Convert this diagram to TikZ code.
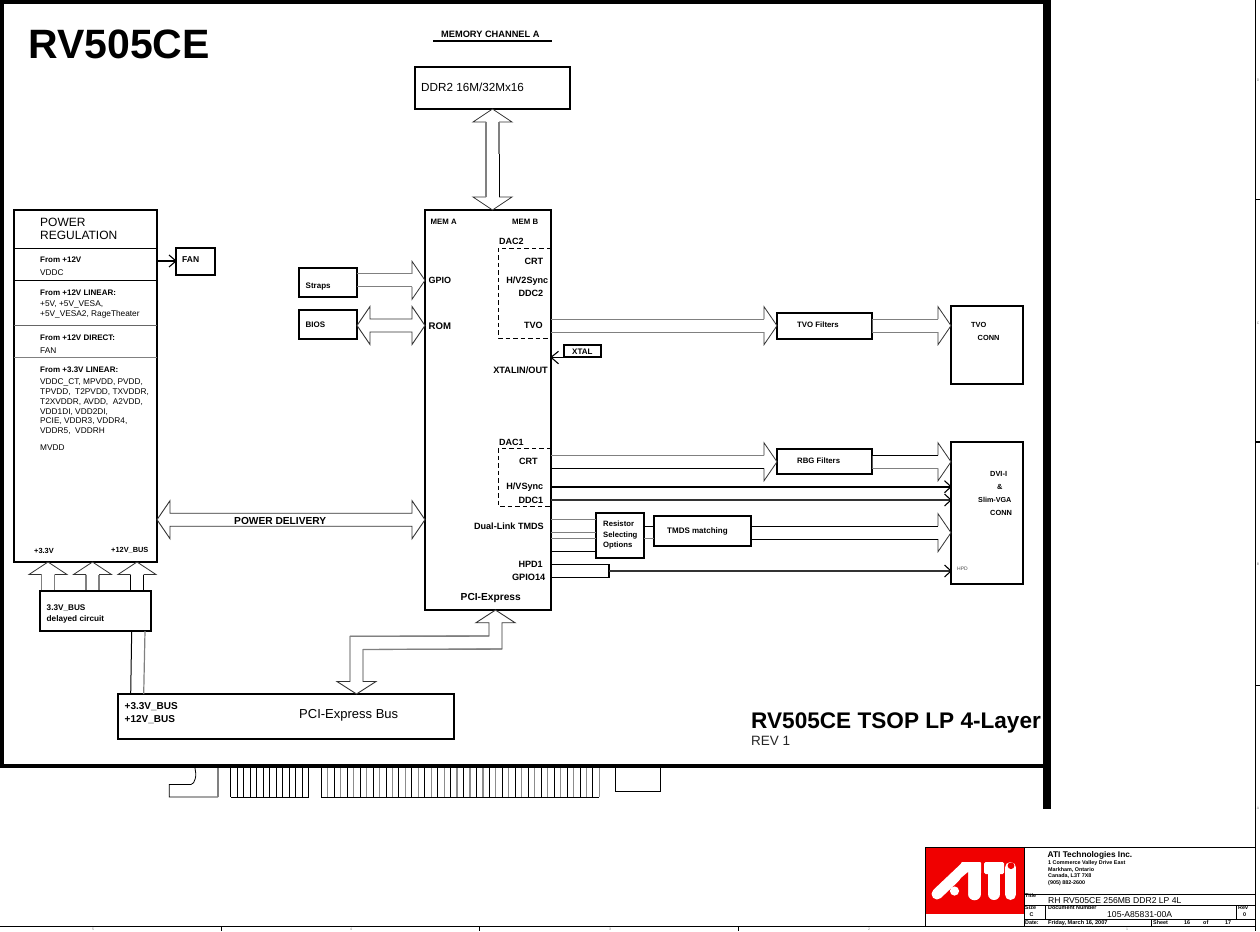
\documentclass[tikz,border=0pt]{standalone}
\usepackage{fontspec}
\setmainfont{Liberation Sans}
\usetikzlibrary{calc}
\definecolor{atired}{RGB}{240,0,0}
\tikzset{x=1pt,y=-1pt,
 boxst/.style={draw=black,line width=2pt,fill=white,inner sep=0pt,outer sep=0pt},
 gl/.style={line width=1.2pt,draw=black!50},
 bl/.style={line width=1pt,draw=black},
 head/.style={line width=.8pt,draw=black!80,line join=miter},
 big/.style={draw=black!80,line width=.9pt,line join=miter,fill=white},
 lbl/.style={inner sep=0pt,anchor=west,yshift=-.6pt,font=\fontsize{9}{10}\selectfont\bfseries},
 sm/.style={inner sep=0pt,anchor=west,yshift=-.6pt,font=\fontsize{8.3}{10}\selectfont},
 smb/.style={inner sep=0pt,anchor=west,yshift=-.6pt,font=\fontsize{8}{10}\selectfont\bfseries},
 pin/.style={inner sep=0pt,anchor=west,yshift=-.6pt,font=\fontsize{9.6}{10}\selectfont\bfseries},
 pinr/.style={inner sep=0pt,anchor=east,yshift=-.6pt,font=\fontsize{9.1}{10}\selectfont\bfseries},
 tb/.style={inner sep=0pt,anchor=west,font=\fontsize{5.4}{6}\selectfont\bfseries},
 tick/.style={inner sep=0pt,text=black!50,font=\fontsize{3.5}{4}\selectfont},
 dsh/.style={line width=.9pt,dash pattern=on 4.5pt off 3pt},
 thinl/.style={line width=.8pt,draw=black},
}
\newcommand{\boxnode}[5]{\node[boxst,minimum width={(#4)-(#2)},minimum height={(#5)-(#3)}] (#1) at ({((#2)+(#4))/2},{((#3)+(#5))/2}) {};}
% block arrow between two nodes, pointing right: from, to, y centre, colour of the upper and of the lower shaft line
\newcommand{\rarrow}[5]{%
 \coordinate (ast) at (#1.east |- 0,#3);
 \coordinate (atp) at (#2.west |- 0,#3);
 \fill[white] ($(ast)+(1.2,-6.5)$) -- ($(atp)+(-13,-6.5)$) -- ($(atp)+(-13,-19)$) -- (atp) -- ($(atp)+(-13,19)$) -- ($(atp)+(-13,6.5)$) -- ($(ast)+(1.2,6.5)$) -- cycle;
 \draw[head] ($(atp)+(-13,-6.5)$) -- ($(atp)+(-13,-19)$) -- (atp) -- ($(atp)+(-13,19)$) -- ($(atp)+(-13,6.5)$);
 \draw[#4] ($(ast)+(0,-6.5)$) -- ($(atp)+(-13,-6.5)$);
 \draw[#5] ($(ast)+(0,6.5)$) -- ($(atp)+(-13,6.5)$);}
% double headed horizontal block arrow
\newcommand{\harrow}[3]{%
 \coordinate (ast) at (#1.east |- 0,#3);
 \coordinate (atp) at (#2.west |- 0,#3);
 \draw[big] (ast) -- ($(ast)+(13,-19)$) -- ($(ast)+(13,-6.5)$) -- ($(atp)+(-13,-6.5)$) -- ($(atp)+(-13,-19)$) -- (atp) -- ($(atp)+(-13,19)$) -- ($(atp)+(-13,6.5)$) -- ($(ast)+(13,6.5)$) -- ($(ast)+(13,19)$) -- cycle;}
% upward block arrow into the power box
\newcommand{\uparrowblk}[2]{%
 \coordinate (atp) at (pwr.south -| #1,0);
 \coordinate (ast) at (dly.north -| #1,0);
 \fill[white] ($(ast)+(-6.5,0)$) -- ($(atp)+(-6.5,12.5)$) -- ($(atp)+(-19,12.5)$) -- (atp) -- ($(atp)+(19,12.5)$) -- ($(atp)+(6.5,12.5)$) -- ($(ast)+(6.5,0)$) -- cycle;
 \draw[head] ($(atp)+(-6.5,12.5)$) -- ($(atp)+(-19,12.5)$) -- (atp) -- ($(atp)+(19,12.5)$) -- ($(atp)+(6.5,12.5)$);
 \draw[#2] ($(ast)+(-6.5,0)$) -- ($(atp)+(-6.5,12.5)$);
 \draw[#2] ($(ast)+(6.5,0)$) -- ($(atp)+(6.5,12.5)$);}
\begin{document}
\begin{tikzpicture}
\useasboundingbox (0,0) rectangle (1260,931);
\fill[white] (0,0) rectangle (1260,931);
% frame
\fill (0,0) rectangle (1051,4.5);
\fill (0,0) rectangle (3.7,768);
\fill (0,763.5) rectangle (1051,768);
\fill (1043.3,0) rectangle (1051,808.5);
\draw[line width=1pt] (1255.5,0) -- (1255.5,931);
\draw[line width=.7pt] (1255.5,199) -- (1260,199) (1255.5,685) -- (1260,685);
\draw[line width=1.6pt] (1255.5,442) -- (1260,442);
\node[tick] (zd) at (1258,80) {D};
\node[tick] (zc) at (1258,323) {C};
\node[tick] (zb) at (1258,564) {B};
\node[tick] (za) at (1258,808) {A};
% titles
\node[lbl,font=\fontsize{41}{43}\selectfont\bfseries] (title) at (28,44) {RV505CE};
\node[lbl,font=\fontsize{9.25}{10}\selectfont\bfseries] (memch) at (441,33.5) {MEMORY CHANNEL A};
\coordinate (mema) at (433,41); \coordinate (memb) at (552,41);
\draw[line width=1.2pt] (mema) -- (memb);
\node[lbl,font=\fontsize{22.6}{24}\selectfont\bfseries,anchor=base west] (rev) at (751,728) {RV505CE TSOP LP 4-Layer};
\node[sm,font=\fontsize{13.5}{15}\selectfont,text=black!85] (rev1) at (751,740.5) {REV 1};
% boxes
\boxnode{ddr}{415}{67}{570}{109}
\node[sm,font=\fontsize{11.7}{13}\selectfont] (ddrt) at (421,87) {DDR2 16M/32Mx16};
\boxnode{pwr}{14}{210}{157}{562}
\boxnode{fan}{176}{248}{215}{275}
\boxnode{dly}{40}{591}{151}{631}
\boxnode{bus}{118}{694}{454}{739}
\boxnode{gpu}{425}{210}{551}{610}
\boxnode{straps}{299}{268}{357}{297}
\boxnode{bios}{299}{310}{357}{339}
\boxnode{xtal}{563.5}{345}{601}{357.3}
\boxnode{tvof}{777}{313}{871.5}{339}
\boxnode{tvoc}{951}{306}{1023.3}{384}
\boxnode{rbgf}{777}{449}{871.5}{474}
\boxnode{dvi}{951}{441.5}{1023.3}{584}
\boxnode{res}{596}{513}{644}{558}
\boxnode{tmds}{654}{516}{751}{546}
% power regulation
\node[sm,font=\fontsize{12}{13}\selectfont,align=left] (pwrt) at (40,228.5) {POWER\\[0pt]REGULATION};
\draw[line width=.8pt] (pwr.west |- 0,248.3) -- (pwr.east |- 0,248.3);
\draw[line width=1pt] (pwr.west |- 0,280) -- (pwr.east |- 0,280);
\draw[line width=1pt,black!60] (pwr.west |- 0,325.7) -- (pwr.east |- 0,325.7);
\draw[line width=1.4pt,black!50] (pwr.west |- 0,357.7) -- (pwr.east |- 0,357.7);
\node[smb] (p1) at (40,259) {From +12V};
\node[sm] (p2) at (40,272.5) {VDDC};
\node[smb] (p3) at (40,292) {From +12V LINEAR:};
\node[sm] (p4) at (40,304) {+5V, +5V\_VESA,};
\node[sm] (p5) at (40,314) {+5V\_VESA2, RageTheater};
\node[smb] (p6) at (40,337) {From +12V DIRECT:};
\node[sm] (p7) at (40,350) {FAN};
\node[smb] (p8) at (40,369) {From +3.3V LINEAR:};
\node[sm] (p9) at (40,382) {VDDC\_CT, MPVDD, PVDD,};
\node[sm] (p10) at (40,392) {TPVDD,\ \ T2PVDD, TXVDDR,};
\node[sm] (p11) at (40,401.7) {T2XVDDR, AVDD,\ \ A2VDD,};
\node[sm] (p12) at (40,411.5) {VDD1DI, VDD2DI,};
\node[sm] (p13) at (40,421) {PCIE, VDDR3, VDDR4,};
\node[sm] (p14) at (40,430.7) {VDDR5,\ \ VDDRH};
\node[sm] (p15) at (40,447) {MVDD};
\node[smb,font=\fontsize{7.4}{9}\selectfont\bfseries] (p16) at (34,550) {+3.3V};
\node[smb,font=\fontsize{7.4}{9}\selectfont\bfseries] (p17) at (111,550) {+12V\_BUS};
% Fan
\node[smb,font=\fontsize{8.5}{10}\selectfont\bfseries] (fant) at (182,259) {FAN};
\draw[line width=1.2pt] (pwr.east |- 0,261) -- (fan.west |- 0,261);
\draw[line width=1.1pt] ($(fan.west |- 0,261)+(-7,-6)$) -- (fan.west |- 0,261) -- ($(fan.west |- 0,261)+(-7,6)$);
% delayed circuit
\uparrowblk{48}{gl}
\uparrowblk{92.5}{gl}
\uparrowblk{137}{bl}
\node[smb,align=left,font=\fontsize{8.2}{11}\selectfont\bfseries] (dlyt) at (46.5,613.5) {3.3V\_BUS\\delayed circuit};
\draw[boxst,fill=none] (dly.south west) rectangle (dly.north east);
\node[lbl,font=\fontsize{10}{13}\selectfont\bfseries,align=left] (bust) at (124.5,712.5) {+3.3V\_BUS\\+12V\_BUS};
\node[sm,font=\fontsize{13}{15}\selectfont] (pcib) at (299,714.8) {PCI-Express Bus};
\draw[bl] (dly.south -| 131.7,0) -- (bus.north -| 130.7,0);
\draw[gl] (dly.south -| 145,0) -- (bus.north -| 143.7,0);
% GPU
\node[smb,font=\fontsize{7.8}{9}\selectfont\bfseries] (g1) at (430.5,221) {MEM A};
\node[smb,font=\fontsize{7.8}{9}\selectfont\bfseries] (g2) at (512,221) {MEM B};
\node[lbl] (g3) at (499,240.5) {DAC2};
\draw[dsh] (gpu.east |- 0,248) -- (498.3,248) -- (498.3,338) -- (gpu.east |- 0,338);
\node[pinr] (g4) at (543.5,260.5) {CRT};
\node[pinr] (g5) at (548.5,280.5) {H/V2Sync};
\node[pinr] (g6) at (543.5,292.5) {DDC2};
\node[pinr] (g7) at (543,325) {TVO};
\node[pinr,font=\fontsize{9.2}{10}\selectfont\bfseries] (g8) at (548,369.5) {XTALIN/OUT};
\node[pin,font=\fontsize{9}{10}\selectfont\bfseries] (g9) at (428.5,279.5) {GPIO};
\node[pin] (g10) at (428.5,325.5) {ROM};
\node[lbl] (g11) at (499,441.5) {DAC1};
\draw[dsh] (gpu.east |- 0,448.3) -- (498.3,448.3) -- (498.3,506.3) -- (gpu.east |- 0,506.3);
\node[pinr] (g12) at (538,460.5) {CRT};
\node[pinr] (g13) at (543.5,487) {H/VSync};
\node[pinr] (g14) at (543.5,499.5) {DDC1};
\node[pinr] (g15) at (544,525.5) {Dual-Link TMDS};
\node[pinr] (g16) at (543,563.5) {HPD1};
\node[pinr,font=\fontsize{9.2}{10}\selectfont\bfseries] (g17) at (545.5,576.5) {GPIO14};
\node[lbl,font=\fontsize{10.2}{11}\selectfont\bfseries] (g18) at (460.5,597.6) {PCI-Express};
% DDR <-> GPU
\coordinate (dt) at (ddr.south); \coordinate (db) at (ddr.south |- gpu.north);
\fill[white] (dt) -- ($(dt)+(-19.5,13)$) -- ($(dt)+(-6.5,13)$) -- ($(db)+(-6.5,-13)$) -- ($(db)+(-19.5,-13)$) -- (db) -- ($(db)+(19.5,-13)$) -- ($(db)+(6.5,-13)$) -- ($(dt)+(6.5,13)$) -- ($(dt)+(19.5,13)$) -- cycle;
\draw[head] ($(dt)+(-6.5,13)$) -- ($(dt)+(-19.5,13)$) -- (dt) -- ($(dt)+(19.5,13)$) -- ($(dt)+(6.5,13)$);
\draw[head] ($(db)+(-6.5,-13)$) -- ($(db)+(-19.5,-13)$) -- (db) -- ($(db)+(19.5,-13)$) -- ($(db)+(6.5,-13)$);
\draw[gl] ($(dt)+(-6.5,13)$) -- ($(db)+(-6.5,-13)$);
\draw[gl] ($(dt)+(6.5,13)$) -- ($(dt)+(6.5,45)$);
\draw[bl] ($(dt)+(6.5,45)$) -- ($(db)+(6.5,-13)$);
% straps / bios
\node[smb] (st) at (305.5,285.8) {Straps};
\node[smb] (bt) at (305.5,324) {BIOS};
\rarrow{straps}{gpu}{280.3}{gl}{gl}
\harrow{bios}{gpu}{325.5}
% power delivery
\harrow{pwr}{gpu}{519.7}
\node[lbl,font=\fontsize{10.2}{11}\selectfont\bfseries] (pd) at (234,520) {POWER DELIVERY};
% XTAL
\node[smb] (xt) at (572,351) {XTAL};
\draw[line width=1.4pt] (gpu.east |- xtal.south) -- (xtal.south east);
\draw[line width=1.1pt] ($(gpu.east |- xtal.south)+(7.5,-6)$) -- (gpu.east |- xtal.south) -- ($(gpu.east |- xtal.south)+(7.5,6.5)$);
% PCI-E arrow
\coordinate (pt) at (gpu.south -| 495.5,0);
\coordinate (pb) at (bus.north -| 356.5,0);
\draw[big] (pt) -- ($(pt)+(19.5,12.7)$) -- ($(pt)+(6.5,12.7)$) -- ($(pt)+(6.5,39)$) -- ($(pb)+(6.5,-44.5)$) -- ($(pb)+(6.5,-12.5)$) -- ($(pb)+(19.5,-12.5)$) -- (pb) -- ($(pb)+(-19.5,-12.5)$) -- ($(pb)+(-6.5,-12.5)$) -- ($(pb)+(-6.5,-57.7)$) -- ($(pt)+(-6.5,26)$) -- ($(pt)+(-6.5,12.7)$) -- ($(pt)+(-19.5,12.7)$) -- cycle;
\draw[gl] ($(pt)+(6.5,39)$) -- ($(pb)+(6.5,-44.5)$);
\draw[gl] ($(pb)+(-6.5,-57.7)$) -- ($(pt)+(-6.5,26)$);
% TVO
\rarrow{gpu}{tvof}{325.7}{gl}{gl}
\node[smb,font=\fontsize{7.8}{10}\selectfont\bfseries] (tf) at (797,324) {TVO Filters};
\rarrow{tvof}{tvoc}{325.7}{gl}{gl}
\node[smb,font=\fontsize{7.4}{10}\selectfont\bfseries] (tc1) at (971,324) {TVO};
\node[smb,font=\fontsize{7.4}{10}\selectfont\bfseries] (tc2) at (977.5,337) {CONN};
% RBG
\rarrow{gpu}{rbgf}{461.8}{gl}{bl}
\node[smb,font=\fontsize{7.8}{10}\selectfont\bfseries] (rf) at (797,460) {RBG Filters};
\rarrow{rbgf}{dvi}{461.8}{bl}{gl}
\node[smb,font=\fontsize{7.4}{10}\selectfont\bfseries] (d1) at (990,473) {DVI-I};
\node[smb,font=\fontsize{7.4}{10}\selectfont\bfseries] (d2) at (997,486.5) {\&};
\node[smb,font=\fontsize{7.2}{10}\selectfont\bfseries] (d3) at (978,499) {Slim-VGA};
\node[smb,font=\fontsize{7.4}{10}\selectfont\bfseries] (d4) at (990,512) {CONN};
\node[sm,font=\fontsize{5}{6}\selectfont,text=black!70] (d5) at (957,568) {HPD};
% sync lines
\draw[line width=2pt] (gpu.east |- 0,486.7) -- (dvi.west |- 0,486.7);
\draw[line width=1.3pt,black!80] (gpu.east |- 0,500) -- (dvi.west |- 0,500);
\draw[line width=1.1pt] ($(dvi.west |- 0,486.7)+(-6.5,-6)$) -- (dvi.west |- 0,486.7) -- ($(dvi.west |- 0,486.7)+(-6.5,6)$);
\draw[line width=1.1pt] ($(dvi.west |- 0,500)+(-6.5,-6)$) -- (dvi.west |- 0,500) -- ($(dvi.west |- 0,500)+(-6.5,6)$);
% TMDS
\node[smb,align=left,font=\fontsize{7.7}{10.5}\selectfont\bfseries] (rt) at (603,534.7) {Resistor\\Selecting\\Options};
\node[smb] (tmt) at (667,531) {TMDS matching};
\draw[gl] (gpu.east |- 0,519.3) -- (res.west |- 0,519.3);
\draw[gl] (gpu.east |- 0,532.7) -- (res.west |- 0,532.7);
\draw[gl] (gpu.east |- 0,538.7) -- (res.west |- 0,538.7);
\draw[bl] (gpu.east |- 0,551.7) -- (res.west |- 0,551.7);
\draw[bl] (res.east |- 0,526) -- (tmds.west |- 0,526);
\draw[gl] (res.east |- 0,538.7) -- (tmds.west |- 0,538.7);
\rarrow{tmds}{dvi}{532.7}{bl}{bl}
% HPD
\coordinate (hp) at (609,571);
\draw[line width=1.1pt] (gpu.east |- 0,564.5) -- (hp |- 0,564.5) -- (hp |- 0,577.3) -- (gpu.east |- 0,577.3);
\draw[line width=1.3pt,black!80] (hp) -- (dvi.west |- hp);
\draw[line width=1.1pt] ($(dvi.west |- hp)+(-6.5,-6)$) -- (dvi.west |- hp) -- ($(dvi.west |- hp)+(-6.5,6)$);
% edge fingers
\draw[thinl] (195,768) .. controls (197,775) and (195,784) .. (191,784.5) -- (169.3,784.5) -- (169.3,797) -- (218,797);
\draw[line width=1.2pt,black!50] (218,768) -- (218,797);
\draw[thinl] (230.5,797) -- (308.7,797);
\foreach \i in {0,...,12} \draw[thinl] ({230.5+\i*6.515},768) -- ({230.5+\i*6.515},797);
\draw[thinl] (321.3,797) -- (599.3,797);
\foreach \i in {0,...,43} {
 \pgfmathtruncatemacro{\m}{mod(\i,2)}
 \ifnum\m=0 \draw[thinl] ({321.3+\i*6.465},768) -- ({321.3+\i*6.465},797);
 \else \draw[line width=1.2pt,black!45] ({321.3+\i*6.465},768) -- ({321.3+\i*6.465},797);\fi
}
\draw[thinl] (615.3,768) -- (615.3,791.3) -- (660.7,791.3) -- (660.7,768);
% bottom rule, ticks
\draw[line width=1.2pt] (0,926.3) -- (1255.5,926.3);
\foreach \x in {221,479,738} \draw[line width=.8pt] (\x,926) -- (\x,931);
\node[tick] (t5) at (93,929.3) {5};
\node[tick] (t4) at (351,929.3) {4};
\node[tick] (t3) at (610,929.3) {3};
\node[tick] (t2) at (869,929.3) {2};
\node[tick] (t1) at (1127,929.3) {1};
% title block
\fill[atired] (925,847.5) rectangle (1024,913.7);
\draw[thinl] (925,847.5) -- (1255.5,847.5);
\draw[thinl] (925,847.5) -- (925,926);
\draw[thinl] (1024,847.5) -- (1024,926);
\draw[thinl] (1024,894) -- (1255.5,894);
\draw[thinl] (1024,905) -- (1255.5,905);
\draw[thinl] (1024,919.3) -- (1255.5,919.3);
\draw[thinl] (1045,905) -- (1045,919.3);
\draw[thinl] (1236,905) -- (1236,919.3);
\draw[thinl] (1151,919.3) -- (1151,926);
% ATI logo
\fill[white,rounded corners=1pt] (961,862) -- (981,862) -- (981,874) -- (961,874) -- cycle;
\draw[white,line width=11pt,line cap=round] (937,894) -- (965,867.5);
\draw[white,line width=12.5pt,line cap=round] (974.5,868.5) -- (974.5,894);
\fill[white,rounded corners=1.5pt] (984,862) rectangle (1004,874);
\draw[white,line width=12pt,line cap=round] (994,870) -- (994,894);
\draw[white,line width=11pt,line cap=round] (1010.5,867.5) -- (1010.5,894.5);
\fill[atired] (1011,865.7) circle (3.4);
\fill[atired] (961,878) -- (968.2,872) -- (968.2,895) -- (950,895) -- cycle;
\fill[white] (954.5,891) circle (4.6);
\node[tb,font=\fontsize{8.3}{9}\selectfont\bfseries] (a1) at (1047.5,855) {ATI Technologies Inc.};
\node[tb,font=\fontsize{5.4}{6.4}\selectfont\bfseries,align=left] (a2) at (1048,873) {1 Commerce Valley Drive East\\Markham, Ontario\\Canada, L3T 7X8\\(905) 882-2600};
\node[tb] (a3) at (1025,896) {Title};
\node[sm,font=\fontsize{8.6}{10}\selectfont] (a4) at (1048,899.8) {RH RV505CE 256MB DDR2 LP 4L};
\node[tb] (a5) at (1025,908) {Size};
\node[tb] (a6) at (1029.5,915) {C};
\node[tb] (a7) at (1048,907.7) {Document Number};
\node[sm,font=\fontsize{8.6}{10}\selectfont] (a8) at (1107,913.5) {105-A85831-00A};
\node[tb] (a9) at (1238,908) {Rev};
\node[tb] (a10) at (1243,915) {0};
\node[tb] (a11) at (1025,922.7) {Date:};
\node[tb,font=\fontsize{5.6}{6}\selectfont\bfseries] (a12) at (1048,922.7) {Friday, March 16, 2007};
\node[tb] (a13) at (1153,922.7) {Sheet};
\node[tb] (a14) at (1184,922.7) {16};
\node[tb] (a15) at (1203,922.7) {of};
\node[tb] (a16) at (1225,922.7) {17};
\end{tikzpicture}
\end{document}
